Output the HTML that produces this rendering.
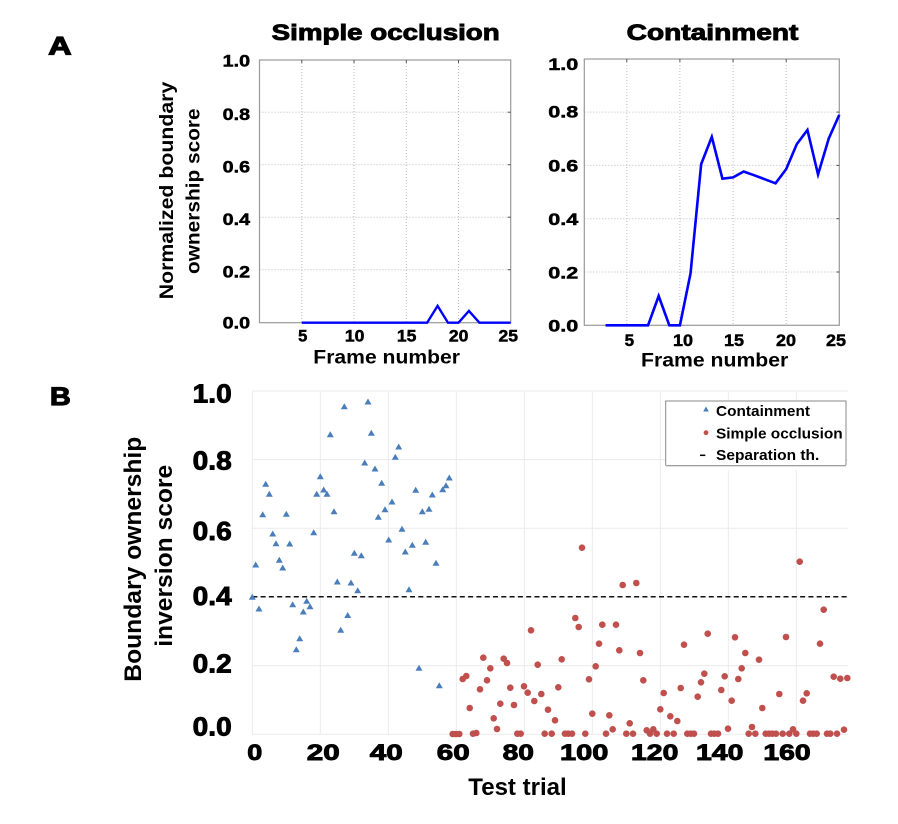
<!DOCTYPE html>
<html><head><meta charset="utf-8"><style>
html,body{margin:0;padding:0;background:#fff;}
svg{display:block;}
text{font-family:"Liberation Sans",Arial,sans-serif;font-weight:bold;fill:#000;}
.hv{stroke:#000;stroke-width:0.7;}
</style></head><body>
<svg width="898" height="824" viewBox="0 0 898 824" xmlns="http://www.w3.org/2000/svg">
<rect width="898" height="824" fill="#fff"/>

<!-- Panel letters -->
<text x="48.3" y="54.3" font-size="25" textLength="23.3" lengthAdjust="spacingAndGlyphs" class="hv" style="stroke-width:1.2">A</text>
<text x="50" y="405" font-size="25" textLength="20.7" lengthAdjust="spacingAndGlyphs" class="hv" style="stroke-width:1.2">B</text>

<!-- Titles -->
<text x="271.7" y="40" font-size="22" textLength="228" lengthAdjust="spacingAndGlyphs" class="hv" style="stroke-width:0.9">Simple occlusion</text>
<text x="626.7" y="40" font-size="22" textLength="171.7" lengthAdjust="spacingAndGlyphs" class="hv" style="stroke-width:0.9">Containment</text>

<!-- ===== Panel A left ===== -->
<g stroke="#bbb" stroke-width="1" stroke-dasharray="1,2">
  <line x1="301.8" y1="60" x2="301.8" y2="322.7"/>
  <line x1="354.0" y1="60" x2="354.0" y2="322.7"/>
  <line x1="406.3" y1="60" x2="406.3" y2="322.7"/>
  <line x1="458.5" y1="60" x2="458.5" y2="322.7"/>
  <line x1="259.5" y1="112.2" x2="510.7" y2="112.2"/>
  <line x1="259.5" y1="164.7" x2="510.7" y2="164.7"/>
  <line x1="259.5" y1="217.2" x2="510.7" y2="217.2"/>
  <line x1="259.5" y1="269.7" x2="510.7" y2="269.7"/>
</g>
<rect x="259.5" y="60" width="251.2" height="262.7" fill="none" stroke="#999" stroke-width="1.2"/>
<g stroke="#555" stroke-width="1">
  <line x1="507.7" y1="112.2" x2="510.7" y2="112.2"/>
  <line x1="507.7" y1="164.7" x2="510.7" y2="164.7"/>
  <line x1="507.7" y1="217.2" x2="510.7" y2="217.2"/>
  <line x1="507.7" y1="269.7" x2="510.7" y2="269.7"/>
  <line x1="301.8" y1="60" x2="301.8" y2="63"/>
  <line x1="354.0" y1="60" x2="354.0" y2="63"/>
  <line x1="406.3" y1="60" x2="406.3" y2="63"/>
  <line x1="458.5" y1="60" x2="458.5" y2="63"/>
</g>
<polyline fill="none" stroke="#0000ff" stroke-width="2.4" stroke-linejoin="miter"
 points="301.8,322.7 427.1,322.7 437.6,305.9 448.0,322.7 458.5,322.7 468.9,310.9 479.4,322.7 510.7,322.7"/>
<g font-size="16.5" text-anchor="end" class="hv" style="stroke-width:0.5">
  <text x="250" y="66.7" textLength="27.3" lengthAdjust="spacingAndGlyphs">1.0</text>
  <text x="250" y="120" textLength="27.3" lengthAdjust="spacingAndGlyphs">0.8</text>
  <text x="250" y="172.7" textLength="27.3" lengthAdjust="spacingAndGlyphs">0.6</text>
  <text x="250" y="225" textLength="27.3" lengthAdjust="spacingAndGlyphs">0.4</text>
  <text x="250" y="277.3" textLength="27.3" lengthAdjust="spacingAndGlyphs">0.2</text>
  <text x="250" y="328.3" textLength="27.3" lengthAdjust="spacingAndGlyphs">0.0</text>
</g>
<g font-size="16.5" text-anchor="middle" class="hv" style="stroke-width:0.5">
  <text x="302.7" y="341.7">5</text>
  <text x="354.7" y="341.7" textLength="19.5" lengthAdjust="spacingAndGlyphs">10</text>
  <text x="406.7" y="341.7" textLength="19.5" lengthAdjust="spacingAndGlyphs">15</text>
  <text x="458.7" y="341.7" textLength="19.5" lengthAdjust="spacingAndGlyphs">20</text>
  <text x="508.3" y="341.7" textLength="19.5" lengthAdjust="spacingAndGlyphs">25</text>
</g>
<text x="313.3" y="363.3" font-size="19" textLength="146.7" lengthAdjust="spacingAndGlyphs">Frame number</text>
<text transform="translate(173,190.5) rotate(-90)" x="0" y="0" font-size="19" text-anchor="middle" textLength="217.6" lengthAdjust="spacingAndGlyphs">Normalized boundary</text>
<text transform="translate(199.3,191.2) rotate(-90)" x="0" y="0" font-size="19" text-anchor="middle" textLength="165.7" lengthAdjust="spacingAndGlyphs">ownership score</text>

<!-- ===== Panel A right ===== -->
<g stroke="#bbb" stroke-width="1" stroke-dasharray="1,2">
  <line x1="626.8" y1="59" x2="626.8" y2="325.3"/>
  <line x1="679.9" y1="59" x2="679.9" y2="325.3"/>
  <line x1="733.1" y1="59" x2="733.1" y2="325.3"/>
  <line x1="786.2" y1="59" x2="786.2" y2="325.3"/>
  <line x1="584.3" y1="112.1" x2="839.3" y2="112.1"/>
  <line x1="584.3" y1="165.4" x2="839.3" y2="165.4"/>
  <line x1="584.3" y1="218.7" x2="839.3" y2="218.7"/>
  <line x1="584.3" y1="272" x2="839.3" y2="272"/>
</g>
<rect x="584.3" y="59" width="255" height="266.3" fill="none" stroke="#999" stroke-width="1.2"/>
<g stroke="#555" stroke-width="1">
  <line x1="836.3" y1="112.1" x2="839.3" y2="112.1"/>
  <line x1="836.3" y1="165.4" x2="839.3" y2="165.4"/>
  <line x1="836.3" y1="218.7" x2="839.3" y2="218.7"/>
  <line x1="836.3" y1="272" x2="839.3" y2="272"/>
  <line x1="626.8" y1="59" x2="626.8" y2="62"/>
  <line x1="679.9" y1="59" x2="679.9" y2="62"/>
  <line x1="733.1" y1="59" x2="733.1" y2="62"/>
  <line x1="786.2" y1="59" x2="786.2" y2="62"/>
</g>
<polyline fill="none" stroke="#0000ff" stroke-width="2.6" stroke-linejoin="miter"
 points="605.55,325.3 648.05,325.3 658.68,296.0 669.3,325.3 679.93,325.3 690.55,273.3 701.18,164.1 711.8,136.9 722.43,178.7 733.05,177.4 743.68,171.5 754.3,175.3 764.93,179.3 775.55,183.3 786.18,169.1 796.8,144.1 807.43,130.0 818.05,174.5 828.68,138.7 839.3,114.8"/>
<g font-size="17" text-anchor="end" class="hv" style="stroke-width:0.5">
  <text x="578.3" y="70" textLength="30" lengthAdjust="spacingAndGlyphs">1.0</text>
  <text x="578.3" y="117.7" textLength="30" lengthAdjust="spacingAndGlyphs">0.8</text>
  <text x="578.3" y="171.7" textLength="30" lengthAdjust="spacingAndGlyphs">0.6</text>
  <text x="578.3" y="225" textLength="30" lengthAdjust="spacingAndGlyphs">0.4</text>
  <text x="578.3" y="278.3" textLength="30" lengthAdjust="spacingAndGlyphs">0.2</text>
  <text x="578.3" y="331.7" textLength="30" lengthAdjust="spacingAndGlyphs">0.0</text>
</g>
<g font-size="17" text-anchor="middle" class="hv" style="stroke-width:0.5">
  <text x="629.3" y="346">5</text>
  <text x="683" y="346" textLength="20" lengthAdjust="spacingAndGlyphs">10</text>
  <text x="734" y="346" textLength="20" lengthAdjust="spacingAndGlyphs">15</text>
  <text x="786" y="346" textLength="20" lengthAdjust="spacingAndGlyphs">20</text>
  <text x="836" y="346" textLength="20" lengthAdjust="spacingAndGlyphs">25</text>
</g>
<text x="641" y="366.7" font-size="19" textLength="147.3" lengthAdjust="spacingAndGlyphs">Frame number</text>

<!-- ===== Panel B ===== -->
<g stroke="#ebebeb" stroke-width="1">
  <line x1="252.3" y1="391" x2="252.3" y2="734.3"/>
  <line x1="320.3" y1="391" x2="320.3" y2="734.3"/>
  <line x1="388.3" y1="391" x2="388.3" y2="734.3"/>
  <line x1="456.3" y1="391" x2="456.3" y2="734.3"/>
  <line x1="524.3" y1="391" x2="524.3" y2="734.3"/>
  <line x1="592.3" y1="391" x2="592.3" y2="734.3"/>
  <line x1="660.3" y1="391" x2="660.3" y2="734.3"/>
  <line x1="728.3" y1="391" x2="728.3" y2="734.3"/>
  <line x1="796.3" y1="391" x2="796.3" y2="734.3"/>
  <line x1="252.3" y1="391" x2="848" y2="391"/>
  <line x1="252.3" y1="459.6" x2="848" y2="459.6"/>
  <line x1="252.3" y1="528.3" x2="848" y2="528.3"/>
  <line x1="252.3" y1="597" x2="848" y2="597"/>
  <line x1="252.3" y1="665.6" x2="848" y2="665.6"/>
  <line x1="252.3" y1="734.3" x2="848" y2="734.3"/>
</g>
<line x1="252.3" y1="596.7" x2="849" y2="596.7" stroke="#111" stroke-width="1.5" stroke-dasharray="5,3.3"/>

<!-- Triangles -->
<g fill="#4a7ebb">
<path d="M252.3 593.8l3.5 6h-7z M255.7 561.5l3.5 6h-7z M259 605.5l3.5 6h-7z M262.7 511.2l3.5 6h-7z M265.7 480.8l3.5 6h-7z M269.3 490.8l3.5 6h-7z M272.7 530.5l3.5 6h-7z M276 540.2l3.5 6h-7z M279.3 556.8l3.5 6h-7z M282.7 564.5l3.5 6h-7z M286.3 510.8l3.5 6h-7z M289.7 540.5l3.5 6h-7z M292.7 601.2l3.5 6h-7z M296.3 646.2l3.5 6h-7z M299.7 635.2l3.5 6h-7z M303.3 608.5l3.5 6h-7z M306.7 597.8l3.5 6h-7z M310 603.2l3.5 6h-7z M313.7 529.2l3.5 6h-7z M316.7 490.8l3.5 6h-7z M320.3 473.2l3.5 6h-7z M323.7 486.5l3.5 6h-7z M327 490.8l3.5 6h-7z M330.3 431.2l3.5 6h-7z M334 508.2l3.5 6h-7z M337.3 578.5l3.5 6h-7z M340.7 626.8l3.5 6h-7z M344.3 403.2l3.5 6h-7z M347.7 612l3.5 6h-7z M351 579.5l3.5 6h-7z M354.3 549.8l3.5 6h-7z M357.7 587.2l3.5 6h-7z M361.3 552.2l3.5 6h-7z M364.7 459.5l3.5 6h-7z M368 398.5l3.5 6h-7z M371.3 429.8l3.5 6h-7z M375 465.5l3.5 6h-7z M378.3 513.8l3.5 6h-7z M381.7 479.8l3.5 6h-7z M385 506.2l3.5 6h-7z M388.7 536.5l3.5 6h-7z M392 498.5l3.5 6h-7z M395.3 453.8l3.5 6h-7z M398.7 443.5l3.5 6h-7z M402 525.8l3.5 6h-7z M405.3 548.5l3.5 6h-7z M409 586.2l3.5 6h-7z M412.3 541.8l3.5 6h-7z M415.7 486.8l3.5 6h-7z M419 664.8l3.5 6h-7z M422.3 508.2l3.5 6h-7z M425.7 538.8l3.5 6h-7z M429 505.8l3.5 6h-7z M432.3 491.5l3.5 6h-7z M436 559.8l3.5 6h-7z M439.3 682.2l3.5 6h-7z M442.7 486.2l3.5 6h-7z M446 482.2l3.5 6h-7z M449.3 474.5l3.5 6h-7z"/>
</g>

<!-- Dots -->
<g fill="#c0504d">
<circle cx="452.7" cy="734" r="3.3"/><circle cx="456" cy="734" r="3.3"/><circle cx="459.3" cy="734" r="3.3"/>
<circle cx="462.7" cy="679" r="3.3"/><circle cx="466.3" cy="676" r="3.3"/><circle cx="469.7" cy="708" r="3.3"/>
<circle cx="473" cy="733.7" r="3.3"/><circle cx="476.3" cy="733" r="3.3"/><circle cx="480" cy="689.3" r="3.3"/>
<circle cx="483.3" cy="657.7" r="3.3"/><circle cx="487" cy="680.3" r="3.3"/><circle cx="490.3" cy="668.3" r="3.3"/>
<circle cx="493.7" cy="718.3" r="3.3"/><circle cx="497" cy="729" r="3.3"/><circle cx="500.3" cy="703.7" r="3.3"/>
<circle cx="503.7" cy="658.7" r="3.3"/><circle cx="507" cy="663" r="3.3"/><circle cx="510.3" cy="687.7" r="3.3"/>
<circle cx="514" cy="705" r="3.3"/><circle cx="517.3" cy="733.7" r="3.3"/><circle cx="520.7" cy="733.7" r="3.3"/>
<circle cx="524" cy="686.3" r="3.3"/><circle cx="527.7" cy="692.7" r="3.3"/><circle cx="531" cy="630.3" r="3.3"/>
<circle cx="534.3" cy="701" r="3.3"/><circle cx="537.7" cy="664.7" r="3.3"/><circle cx="541.3" cy="694" r="3.3"/>
<circle cx="544.7" cy="733.7" r="3.3"/><circle cx="548" cy="709.7" r="3.3"/><circle cx="551.7" cy="733.7" r="3.3"/>
<circle cx="555" cy="720.3" r="3.3"/><circle cx="558.3" cy="687.3" r="3.3"/><circle cx="561.7" cy="659.3" r="3.3"/>
<circle cx="565" cy="733.7" r="3.3"/><circle cx="568.3" cy="733.7" r="3.3"/><circle cx="572" cy="733.7" r="3.3"/>
<circle cx="575.3" cy="618" r="3.3"/><circle cx="578.7" cy="627" r="3.3"/><circle cx="582" cy="547.7" r="3.3"/>
<circle cx="585.3" cy="733.7" r="3.3"/><circle cx="589" cy="679.3" r="3.3"/><circle cx="592.3" cy="713.7" r="3.3"/>
<circle cx="595.7" cy="666.3" r="3.3"/><circle cx="599" cy="643.7" r="3.3"/><circle cx="602.3" cy="624.7" r="3.3"/>
<circle cx="606" cy="733.7" r="3.3"/><circle cx="609.3" cy="715.3" r="3.3"/><circle cx="612.7" cy="729.3" r="3.3"/>
<circle cx="616" cy="624.7" r="3.3"/><circle cx="619.3" cy="650.3" r="3.3"/><circle cx="622.7" cy="585" r="3.3"/>
<circle cx="626.3" cy="733.7" r="3.3"/><circle cx="629.7" cy="723.3" r="3.3"/><circle cx="633" cy="733.7" r="3.3"/>
<circle cx="636.3" cy="583" r="3.3"/><circle cx="640" cy="653" r="3.3"/><circle cx="643.3" cy="680.3" r="3.3"/>
<circle cx="646.7" cy="730.3" r="3.3"/><circle cx="650" cy="733.7" r="3.3"/><circle cx="653.3" cy="729.3" r="3.3"/>
<circle cx="656.7" cy="733.7" r="3.3"/><circle cx="660.3" cy="709.3" r="3.3"/><circle cx="663.7" cy="693" r="3.3"/>
<circle cx="667" cy="733.7" r="3.3"/><circle cx="670.3" cy="716.3" r="3.3"/><circle cx="673.7" cy="733.7" r="3.3"/>
<circle cx="677.3" cy="721" r="3.3"/><circle cx="680.7" cy="688" r="3.3"/><circle cx="684" cy="644.7" r="3.3"/>
<circle cx="687.3" cy="733.7" r="3.3"/><circle cx="690.7" cy="733.7" r="3.3"/><circle cx="694" cy="733.7" r="3.3"/>
<circle cx="697.7" cy="696.7" r="3.3"/><circle cx="701" cy="682.3" r="3.3"/><circle cx="704.3" cy="673.7" r="3.3"/>
<circle cx="707.7" cy="633.7" r="3.3"/><circle cx="711" cy="733.7" r="3.3"/><circle cx="714.3" cy="733.7" r="3.3"/>
<circle cx="718" cy="733.7" r="3.3"/><circle cx="721.3" cy="690" r="3.3"/><circle cx="724.7" cy="676.3" r="3.3"/>
<circle cx="728" cy="728.7" r="3.3"/><circle cx="731.7" cy="700.7" r="3.3"/><circle cx="735" cy="637.3" r="3.3"/>
<circle cx="738.3" cy="679" r="3.3"/><circle cx="741.7" cy="668.3" r="3.3"/><circle cx="745.3" cy="653" r="3.3"/>
<circle cx="748.7" cy="733.7" r="3.3"/><circle cx="752" cy="727" r="3.3"/><circle cx="755.3" cy="733.7" r="3.3"/>
<circle cx="759" cy="659.7" r="3.3"/><circle cx="762.3" cy="708" r="3.3"/><circle cx="765.7" cy="733.7" r="3.3"/>
<circle cx="769" cy="733.7" r="3.3"/><circle cx="772.3" cy="733.7" r="3.3"/><circle cx="776" cy="733.7" r="3.3"/>
<circle cx="779.3" cy="694" r="3.3"/><circle cx="782.7" cy="733.7" r="3.3"/><circle cx="786" cy="637" r="3.3"/>
<circle cx="789.3" cy="733.7" r="3.3"/><circle cx="793" cy="729.3" r="3.3"/><circle cx="796.3" cy="733.7" r="3.3"/>
<circle cx="799.7" cy="561.7" r="3.3"/><circle cx="803" cy="700.7" r="3.3"/><circle cx="806.7" cy="693.3" r="3.3"/>
<circle cx="810" cy="733.7" r="3.3"/><circle cx="813.3" cy="733.7" r="3.3"/><circle cx="816.7" cy="733.7" r="3.3"/>
<circle cx="820" cy="643.7" r="3.3"/><circle cx="823.7" cy="609.7" r="3.3"/><circle cx="827" cy="733.7" r="3.3"/>
<circle cx="830.3" cy="733.7" r="3.3"/><circle cx="833.7" cy="676.7" r="3.3"/><circle cx="837" cy="733.7" r="3.3"/>
<circle cx="840.3" cy="678.7" r="3.3"/><circle cx="844" cy="729.7" r="3.3"/><circle cx="847.3" cy="678" r="3.3"/>
</g>

<!-- Legend -->
<rect x="665.7" y="401" width="180.3" height="64.7" fill="#fff" stroke="#888" stroke-width="1"/>
<path d="M706 406.5l2.8 5h-5.6z" fill="#4a7ebb"/>
<circle cx="706" cy="432.7" r="2.4" fill="#c0504d"/>
<line x1="700" y1="455.3" x2="705.3" y2="455.3" stroke="#000" stroke-width="1.5"/>
<g font-size="15">
  <text x="716" y="416" textLength="94" lengthAdjust="spacingAndGlyphs">Containment</text>
  <text x="716" y="438.3" textLength="126.7" lengthAdjust="spacingAndGlyphs">Simple occlusion</text>
  <text x="716" y="460" textLength="103.3" lengthAdjust="spacingAndGlyphs">Separation th.</text>
</g>
<rect x="665.2" y="465.2" width="181.3" height="5" fill="#fff"/>
<line x1="665.7" y1="465.7" x2="846" y2="465.7" stroke="#888" stroke-width="1"/>

<!-- Panel B axis labels -->
<g font-size="26" text-anchor="end" class="hv" style="stroke-width:0.9">
  <text x="231.7" y="402.7" textLength="39" lengthAdjust="spacingAndGlyphs">1.0</text>
  <text x="231.7" y="469.3" textLength="39" lengthAdjust="spacingAndGlyphs">0.8</text>
  <text x="231.7" y="540" textLength="39" lengthAdjust="spacingAndGlyphs">0.6</text>
  <text x="231.7" y="605" textLength="39" lengthAdjust="spacingAndGlyphs">0.4</text>
  <text x="231.7" y="672.7" textLength="39" lengthAdjust="spacingAndGlyphs">0.2</text>
  <text x="231.7" y="735.7" textLength="39" lengthAdjust="spacingAndGlyphs">0.0</text>
</g>
<g font-size="22" text-anchor="middle" class="hv" style="stroke-width:0.9">
  <text x="254.8" y="760" textLength="15" lengthAdjust="spacingAndGlyphs">0</text>
  <text x="323.3" y="760" textLength="33" lengthAdjust="spacingAndGlyphs">20</text>
  <text x="386.3" y="760" textLength="33" lengthAdjust="spacingAndGlyphs">40</text>
  <text x="453.3" y="760" textLength="33" lengthAdjust="spacingAndGlyphs">60</text>
  <text x="518.3" y="760" textLength="31.3" lengthAdjust="spacingAndGlyphs">80</text>
  <text x="584.2" y="760" textLength="48.3" lengthAdjust="spacingAndGlyphs">100</text>
  <text x="654.7" y="760" textLength="47.3" lengthAdjust="spacingAndGlyphs">120</text>
  <text x="719.7" y="760" textLength="47.3" lengthAdjust="spacingAndGlyphs">140</text>
  <text x="787" y="760" textLength="47.3" lengthAdjust="spacingAndGlyphs">160</text>
</g>
<text x="468.3" y="795" font-size="24" textLength="98.4" lengthAdjust="spacingAndGlyphs">Test trial</text>
<text transform="translate(141,559.2) rotate(-90)" x="0" y="0" font-size="24" text-anchor="middle" textLength="245" lengthAdjust="spacingAndGlyphs">Boundary ownership</text>
<text transform="translate(172,555.8) rotate(-90)" x="0" y="0" font-size="24" text-anchor="middle" textLength="182" lengthAdjust="spacingAndGlyphs">inversion score</text>
</svg>
</body></html>
